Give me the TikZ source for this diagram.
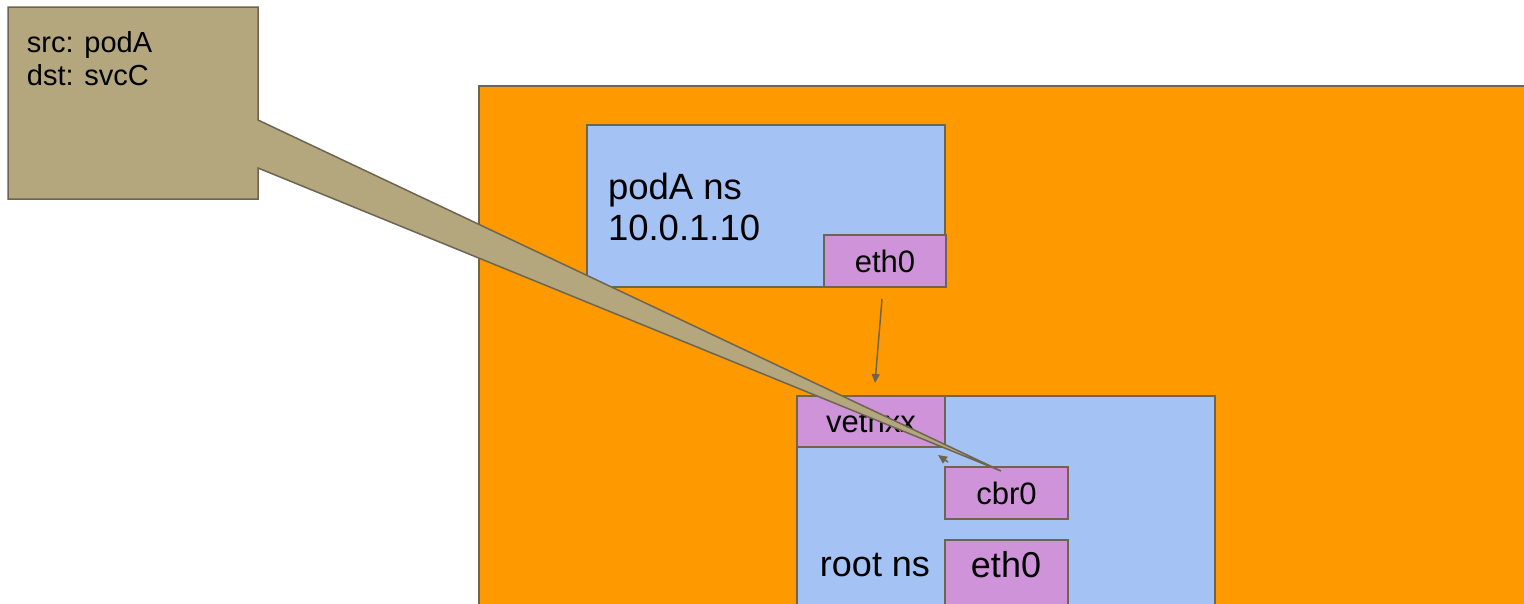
\documentclass[tikz,border=0pt]{standalone}
\usepackage{fontspec}
\setmainfont{Liberation Sans}
\usetikzlibrary{arrows.meta,calc}
\definecolor{orng}{HTML}{FF9900}
\definecolor{nsblue}{HTML}{A4C2F4}
\definecolor{ifpurple}{HTML}{CE93D8}
\definecolor{khaki}{HTML}{B4A77D}
\definecolor{bord}{HTML}{6D6552}
\begin{document}
\begin{tikzpicture}[x=1pt,y=-1pt,
  box/.style={draw=bord, line width=1.5pt, inner sep=0pt, outer sep=0pt, anchor=north west},
  iface/.style={box, fill=ifpurple},
  nsbox/.style={box, fill=nsblue},
  lbl/.style={inner sep=0pt, outer sep=0pt},
  conn/.style={draw=bord, line width=1.5pt, -{Triangle[length=9pt,width=8pt]}}]
\clip (0,0) rectangle (1524,603);
\fill[white] (0,0) rectangle (1524,603);
% host
\node[box, fill=orng, minimum width=1070pt, minimum height=540pt] (host) at (479,86) {};
% pod namespace
\node[nsbox, minimum width=358pt, minimum height=162pt] (podA) at (587,125) {};
\node[lbl, anchor=west, align=left, font=\fontsize{36.5}{41}\selectfont] (podlbl) at (608,207) {podA ns\\10.0.1.10};
\node[iface, minimum width=122pt, minimum height=52pt, font=\fontsize{31}{36}\selectfont] (eth0a) at (824,235) {eth0};
% root namespace
\node[nsbox, minimum width=418pt, minimum height=260pt] (root) at (797,396) {};
\node[iface, minimum width=148pt, minimum height=51pt, font=\fontsize{31}{36}\selectfont] (veth) at (797,396) {vethxx};
\node[iface, minimum width=123pt, minimum height=52pt, font=\fontsize{31}{36}\selectfont] (cbr) at (945,467) {cbr0};
\node[iface, minimum width=123pt, minimum height=80pt] (eth0b) at (945,540) {};
\node[lbl, font=\fontsize{36}{41}\selectfont] (eth0blbl) at (1006,565) {eth0};
\node[lbl, font=\fontsize{36}{41}\selectfont] (rootlbl) at (875,565) {root ns};
% connectors
\draw[conn] ($(eth0a.south)+(-3,12)$) -- ($(veth.north)+(4,-13)$);
\draw[conn] ($(cbr.north west)+(3,-5)$) -- ($(veth.south east)+(-7,8)$);
% callout
\coordinate (tip) at (1001,471);
\filldraw[fill=khaki, draw=bord, line width=1.5pt, line join=miter]
  (8,7) -- (258,7) -- (258,120) -- (tip) -- (258,168) -- (258,199) -- (8,199) -- cycle;
\node[lbl, anchor=west, align=left, font=\fontsize{29}{33}\selectfont] (note) at (27,59) {src: podA\\dst: svcC};
\end{tikzpicture}
\end{document}
